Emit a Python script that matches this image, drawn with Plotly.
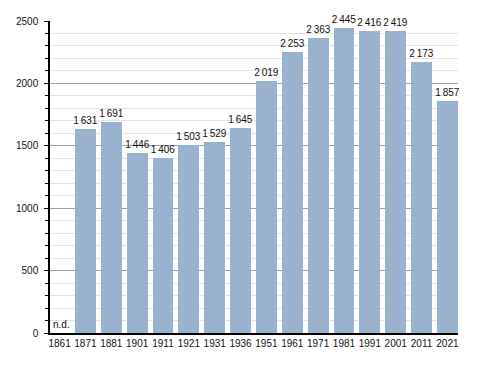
import plotly.graph_objects as go

years = ["1861", "1871", "1881", "1901", "1911", "1921", "1931", "1936",
         "1951", "1961", "1971", "1981", "1991", "2001", "2011", "2021"]
population = [None, 1631, 1691, 1446, 1406, 1503, 1529, 1645,
              2019, 2253, 2363, 2445, 2416, 2419, 2173, 1857]
y_ticks = [0, 500, 1000, 1500, 2000, 2500]

x_pos = list(range(len(years)))
labels = ["" if v is None else f"{v // 1000}\u2009{v % 1000:03d}" for v in population]

FONT = "Liberation Sans, Arial, sans-serif"

fig = go.Figure()
fig.add_trace(go.Bar(
    x=x_pos, y=population, width=0.81,
    marker=dict(color="#99b3cf", line=dict(width=0)),
    text=labels, textposition="outside", constraintext="none",
    textfont=dict(family=FONT, size=10, color="#111"),
    cliponaxis=False,
))

fig.add_annotation(x=x_pos[0], y=0, xref="x", yref="y", text="n.d.",
                   showarrow=False, xanchor="left", yanchor="bottom",
                   xshift=-9, yshift=1,
                   font=dict(family=FONT, size=10, color="#111"))

# page body has an 8px default margin, so offset margins accordingly
fig.update_layout(
    width=488, height=373,
    margin=dict(l=42, r=38, t=13, b=48),
    paper_bgcolor="white", plot_bgcolor="white",
    showlegend=False,
    font=dict(family=FONT, size=10, color="#111"),
    bargap=0,
)
fig.update_xaxes(
    range=[-0.37, 15.41], tickvals=x_pos, ticktext=years, tickangle=0,
    automargin=False,
    showgrid=False, showline=True, linecolor="black", linewidth=1.5,
    ticks="", tickfont=dict(family=FONT, size=10, color="#111"), zeroline=False,
)
fig.update_yaxes(
    range=[0, 2500], tickvals=y_ticks, automargin=False,
    showgrid=True, gridcolor="#a0a0a0", gridwidth=1,
    showline=True, linecolor="black", linewidth=1.5, ticks="outside", ticklen=4,
    tickcolor="black", tickfont=dict(family=FONT, size=10, color="#111"), zeroline=False,
    ticklabelstandoff=4,
    minor=dict(dtick=100, showgrid=True, gridcolor="#e2e2e2", ticks="outside",
               ticklen=3, tickcolor="black"),
)

fig.write_html("out.html")
